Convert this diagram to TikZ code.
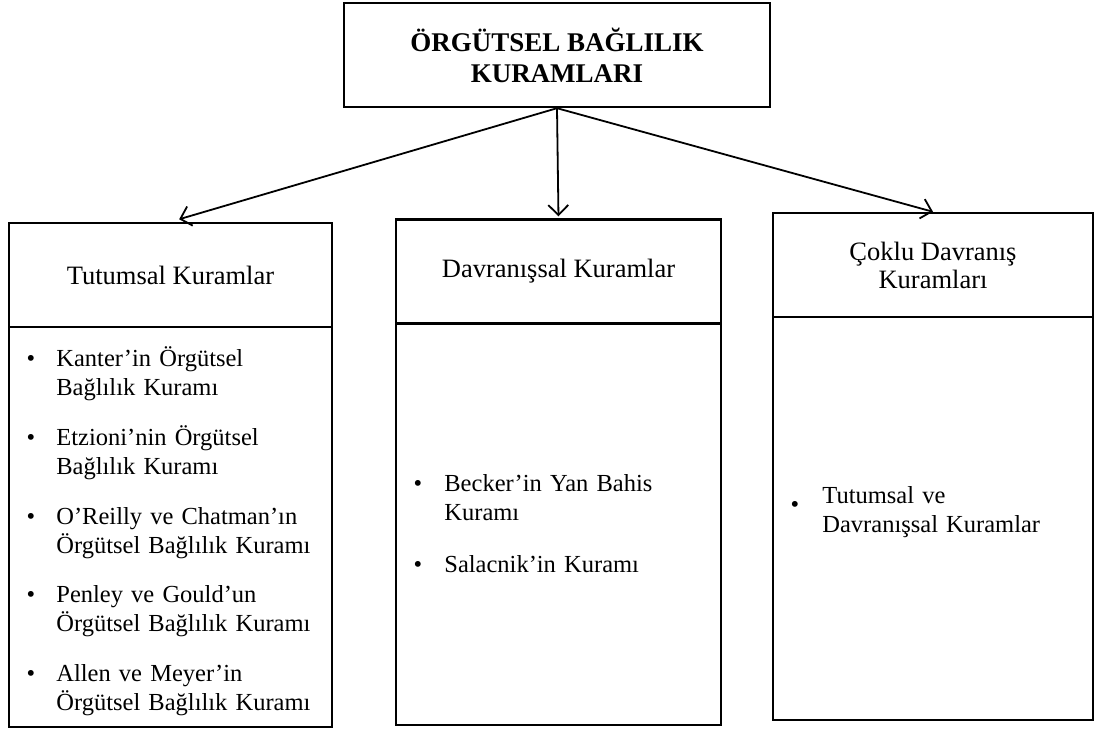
\documentclass[tikz,border=0pt]{standalone}
\usepackage{fontspec}
\setmainfont{Liberation Serif}
\usetikzlibrary{arrows.meta}
\tikzstyle{anakutu}=[draw,line width=1.2pt,rectangle,align=center,inner sep=0pt,font=\bfseries\fontsize{13.5}{15.5}\selectfont,minimum width=213pt,minimum height=52pt]
\tikzstyle{okedge} = [draw,line width=0.9pt,-{Straight Barb[length=5pt,width=10pt]}]
\tikzset{
  ustkutu/.style = {draw, line width=1.2pt, align=center, inner sep=0pt,
    minimum width=#1, minimum height=52pt, font=\fontsize{13.25}{14}\selectfont},
  altkutu/.style = {draw, line width=1.2pt, inner sep=0pt, minimum width=#1},% govde kutusu
  madde/.style = {anchor=base west, align=left, inner sep=0pt, text width=135pt,
    font=\fontsize{12.25}{14.5}\selectfont},
  nokta/.style = {anchor=base, inner sep=0pt, font=\fontsize{12.25}{14.5}\selectfont},
}
\begin{document}
\begin{tikzpicture}[x=0.5pt,y=-0.5pt]

    \useasboundingbox (0,0) rectangle (1094,731);

    \node[anakutu] (kuram) at (557,55) {ÖRGÜTSEL BAĞLILIK\\KURAMLARI};

    \node[ustkutu=161.5pt] (tutum) at (170.5,275) {Tutumsal Kuramlar};
    \node[altkutu=161.5pt, minimum height=200pt] (tutumg) at (170.5,527) {};
    \node[ustkutu=162.5pt] (davran) at (558.5,271.5) {Davranışsal Kuramlar};
    \node[altkutu=162.5pt, minimum height=200.5pt] (davrang) at (558.5,524.5) {};
    \node[ustkutu=160pt] (coklu) at (933,265) {Çoklu Davranış\\Kuramları};
    \node[altkutu=160pt, minimum height=201.5pt] (coklug) at (933,518.5) {};

    % tutumsal
    \node[nokta] (n1) at (31,367) {\textbullet};
    \node[madde] (m1) at (56,367) {Kanter’in Örgütsel\\Bağlılık Kuramı};
    \node[nokta] (n2) at (31,446) {\textbullet};
    \node[madde] (m2) at (56,446) {Etzioni’nin Örgütsel\\Bağlılık Kuramı};
    \node[nokta] (n3) at (31,525) {\textbullet};
    \node[madde] (m3) at (56,525) {O’Reilly ve Chatman’ın\\Örgütsel Bağlılık Kuramı};
    \node[nokta] (n4) at (31,603) {\textbullet};
    \node[madde] (m4) at (56,603) {Penley ve Gould’un\\Örgütsel Bağlılık Kuramı};
    \node[nokta] (n5) at (31,682) {\textbullet};
    \node[madde] (m5) at (56,682) {Allen ve Meyer’in\\Örgütsel Bağlılık Kuramı};

    % davranissal
    \node[nokta] (n6) at (418,492) {\textbullet};
    \node[madde] (m6) at (444,492) {Becker’in Yan Bahis\\Kuramı};
    \node[nokta] (n7) at (418,573) {\textbullet};
    \node[madde] (m7) at (444,573) {Salacnik’in Kuramı};

    % coklu
    \node[nokta] (n8) at (795,513) {\textbullet};
    \node[madde] (m8) at (822,504) {Tutumsal ve\\Davranışsal Kuramlar};

    \path[okedge, shorten >=4.5pt] (kuram.south) -- (tutum.north);
    \path[okedge, shorten >=1pt] (kuram.south) -- (davran.north);
    \path[okedge] (kuram.south) -- (coklu.north);

\end{tikzpicture}
\end{document}
